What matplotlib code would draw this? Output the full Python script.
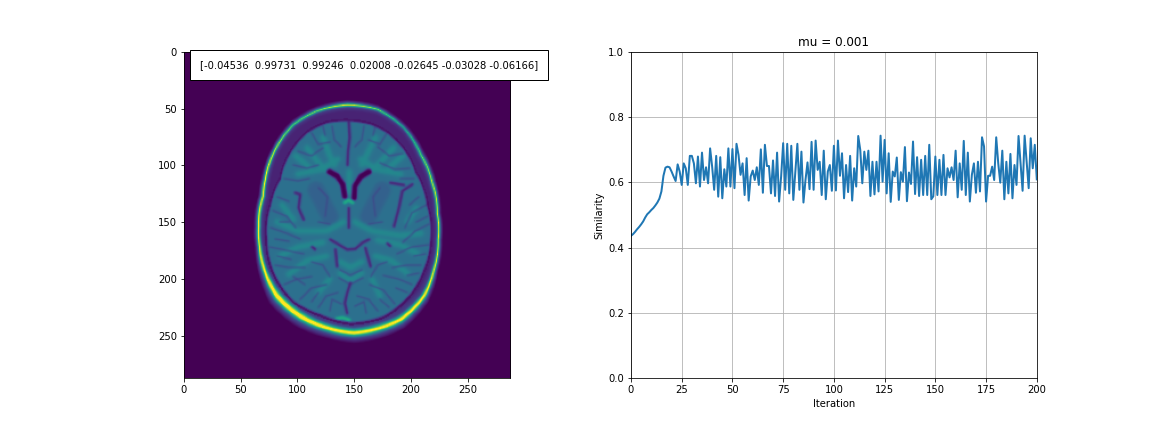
#!/usr/bin/env python3
"""Brain slice with registration result, and similarity per iteration."""

import numpy as np
import matplotlib

matplotlib.use("Agg")
import matplotlib.pyplot as plt

similarity = [
    .436, .441, .448, .456, .463, .471, .480, .492, .502, .508,
    .515, .521, .529, .538, .550, .572, .620, .645, .648, .646,
    .633, .618, .604, .655, .633, .592, .658, .643, .592, .681,
    .681, .658, .597, .679, .587, .691, .607, .646, .597, .704,
    .648, .577, .681, .556, .677, .551, .640, .587, .704, .587,
    .702, .582, .718, .684, .623, .658, .561, .674, .544, .618,
    .636, .607, .646, .592, .701, .568, .715, .650, .650, .566,
    .667, .558, .691, .541, .618, .720, .577, .718, .566, .712,
    .546, .633, .718, .577, .694, .538, .607, .661, .579, .724,
    .577, .728, .638, .663, .561, .697, .548, .633, .653, .574,
    .712, .575, .728, .620, .689, .551, .653, .570, .681, .544,
    .643, .587, .742, .699, .597, .694, .638, .697, .558, .663,
    .563, .663, .572, .743, .602, .730, .566, .689, .540, .633,
    .618, .676, .546, .631, .602, .708, .542, .630, .595, .725,
    .564, .677, .558, .669, .561, .681, .561, .715, .548, .557,
    .679, .561, .669, .561, .684, .561, .643, .615, .646, .607,
    .697, .554, .658, .577, .727, .561, .691, .541, .623, .658,
    .568, .663, .572, .738, .710, .541, .620, .620, .648, .607,
    .738, .658, .599, .697, .548, .663, .566, .687, .551, .653,
    .592, .742, .658, .574, .743, .663, .582, .735, .643, .715,
    .609,
]
iterations = list(range(len(similarity)))
xticks_right = [0, 25, 50, 75, 100, 125, 150, 175, 200]
yticks_right = [0.0, 0.2, 0.4, 0.6, 0.8, 1.0]
ticks_left = [0, 50, 100, 150, 200, 250]
params_text = "[-0.04536  0.99731  0.99246  0.02008 -0.02645 -0.03028 -0.06166]"

# skull ridge: x, y, brightness, thickness
head_x = [143.2, 169.6, 193, 207.8, 218, 222.4, 223.3, 219.5, 210.7, 190.2, 169.6, 149.1,
          125.6, 102.1, 81.6, 71.3, 66.3, 65.5, 69.3, 71.3, 78.7, 96.3, 116.8]
head_y = [47.2, 51, 67.2, 90.6, 115.6, 142, 165.5, 191.9, 215.3, 235.9, 244, 247.6,
          243.2, 233, 215.3, 194.8, 171.3, 153.7, 127.3, 112.6, 89.2, 64.2, 52.5]
head_v = [1.05, .85, .6, .8, 1.0, 1.05, 1.05, 1.1, 1.15, 1.15, 1.1, 1.1,
          1.15, 1.25, 1.25, 1.15, 1.1, 1.1, 1.1, 1.15, 1.05, .8, .85]
head_w = [.7, .65, .7, .85, .8, .75, .75, .8, 1.1, 1.4, 1.5, 1.5,
          1.5, 1.7, 1.7, 1.2, .9, .9, .9, .8, .7, .7, .7]
brain_x = [125.6, 146.2, 163.8, 178.4, 193.1, 203.4, 213.6, 216.6, 210.7, 197.5,
           175.5, 146.2, 119.7, 96.3, 78.7, 72.8, 75.7, 84.5, 93.3, 108]
brain_y = [62.8, 61.3, 64.2, 71.6, 86.2, 106.8, 136.1, 165.5, 191.9, 215.3,
           232.9, 238.8, 231.5, 219.7, 194.8, 165.5, 136.1, 112.6, 89.2, 71.6]
ridge_pos = [.92, .965, .985, 1.0, 1.012, 1.03, 1.06]
ridge_val = [0, .08, .5, 1, .55, .18, 0]

ventricles = [
    [(127.6, 106), (134.4, 109.8), (139.4, 117.1), (141.1, 127.4)],
    [(162.3, 106), (154.9, 110.7), (149.9, 118.6), (149.4, 128.9)],
    [(128, 106), (134, 109.5)],
    [(162, 106), (156, 109.5)],
]
fissures = [
    [(144.7, 62), (145.5, 76), (144, 88), (143.5, 100)],
    [(144.7, 138), (144.7, 155)],
    [(97.7, 124.5), (102.1, 125.9), (100.6, 137.7), (105, 147.9)],
    [(200.4, 117.1), (191.6, 123), (188.7, 137.7), (184.3, 153.8)],
    [(181.3, 115.7), (193, 117.7)],
    [(128.5, 165.5), (135.9, 169.9), (143.2, 174.3), (150.5, 173.7), (156.4, 168.4), (162.3, 165.5)],
    [(132.9, 174.3), (134.4, 189)],
    [(159.3, 172.9), (163.7, 189)],
    [(146.1, 203.7), (143.2, 212.5), (141.1, 221.3), (143.2, 230.1)],
    [(112.5, 172), (115, 174)],
    [(178.5, 169), (181, 171)],
]
sulci = [
    [(100, 88), (112, 92), (122, 85)], [(112, 72), (118, 82), (128, 80)],
    [(96, 100), (108, 103), (118, 100)], [(130, 66), (132, 78), (138, 84)],
    [(192, 90), (180, 92), (170, 84)], [(178, 72), (172, 82), (162, 78)],
    [(198, 103), (185, 104), (172, 98)], [(158, 66), (156, 78), (150, 84)],
    [(78, 140), (90, 145), (98, 155)], [(76, 155), (90, 160), (102, 165)],
    [(75, 172), (90, 175), (105, 178)], [(80, 188), (92, 190), (106, 190)],
    [(88, 205), (100, 200), (112, 198)], [(102, 218), (112, 208), (125, 205)],
    [(213, 135), (200, 142), (194, 155)], [(215, 152), (203, 158), (192, 168)],
    [(215, 170), (200, 172), (187, 178)], [(208, 188), (196, 188), (183, 190)],
    [(200, 205), (188, 200), (175, 197)], [(185, 222), (175, 210), (163, 205)],
    [(118, 225), (125, 215), (135, 212)], [(170, 228), (162, 218), (152, 215)],
    [(137, 192), (146, 197), (156, 192)], [(136, 199), (146, 205), (157, 199)],
    [(88, 112), (100, 114), (110, 112)], [(106, 72), (112, 62)], [(122, 66), (124, 74)],
    [(168, 66), (166, 74)], [(186, 78), (180, 68)], [(202, 112), (190, 112)],
    [(82, 128), (92, 132)], [(84, 150), (92, 150)], [(80, 165), (92, 167)],
    [(82, 180), (94, 183)], [(96, 198), (106, 205)], [(112, 220), (118, 212)],
    [(128, 228), (130, 218), (138, 222)], [(160, 230), (158, 220), (150, 224)],
    [(180, 225), (172, 218)], [(196, 212), (186, 208)], [(206, 195), (196, 197)],
    [(212, 178), (202, 180)], [(214, 145), (204, 150)], [(206, 128), (198, 135)],
    [(118, 120), (126, 128), (124, 145)], [(172, 120), (166, 128), (168, 145)],
    [(118, 150), (128, 152)], [(162, 152), (174, 150)], [(112, 185), (122, 188), (128, 198)],
    [(178, 185), (170, 188), (164, 198)],
]
white_matter = [
    [(100, 108), (120, 104), (135, 95)], [(108, 85), (118, 98), (124, 104)],
    [(122, 76), (128, 92), (132, 100)], [(190, 108), (170, 104), (155, 95)],
    [(184, 85), (172, 98), (166, 104)], [(168, 76), (160, 92), (156, 100)],
    [(145, 106), (145, 124)], [(82, 150), (100, 158), (125, 158), (140, 150)],
    [(84, 180), (100, 172), (122, 168)], [(92, 196), (108, 184), (125, 180)],
    [(208, 160), (190, 162), (165, 158), (150, 150)], [(205, 178), (190, 170), (170, 166)],
    [(196, 195), (182, 184), (168, 180)], [(118, 212), (128, 200)], [(172, 215), (165, 200)],
    [(137, 195), (146, 201), (156, 195)], [(137, 185), (146, 190), (156, 185)],
    [(86, 135), (96, 148)], [(204, 138), (196, 150)], [(98, 92), (110, 102)], [(192, 92), (180, 102)],
]
deep_patches = [
    [(116, 122), (128, 145)],
    [(174, 122), (162, 145)],
]
bright_spots = [
    [(141, 133), (144.7, 131), (148, 133)],
    [(134, 235), (139, 234), (145, 236)],
]


def stroke(img, xx, yy, line, value, width):
    # soft-edged polyline painted into the slice
    d = np.full(img.shape, 1e9)
    for (x0, y0), (x1, y1) in zip(line[:-1], line[1:]):
        dx, dy = x1 - x0, y1 - y0
        t = np.clip(((xx - x0) * dx + (yy - y0) * dy) / (dx * dx + dy * dy), 0, 1)
        d = np.minimum(d, np.hypot(xx - x0 - t * dx, yy - y0 - t * dy))
    a = np.clip(width - d, 0, 1)
    return img * (1 - a) + value * a


def blur(img, sigma):
    r = int(3 * sigma) + 1
    k = np.exp(-0.5 * (np.arange(-r, r + 1) / sigma) ** 2)
    k = k / k.sum()
    img = np.apply_along_axis(lambda v: np.convolve(v, k, mode="same"), 0, img)
    return np.apply_along_axis(lambda v: np.convolve(v, k, mode="same"), 1, img)


def polar_outline(xs, ys, cx, cy):
    th = np.arctan2(np.array(ys) - cy, np.array(xs) - cx)
    rad = np.hypot(np.array(xs) - cx, np.array(ys) - cy)
    return th, rad


def build_slice(size=287):
    yy, xx = np.mgrid[0:size, 0:size] + 0.5
    cx, cy = 145.0, 147.0
    theta = np.arctan2(yy - cy, xx - cx)
    dist = np.hypot(xx - cx, yy - cy)

    th_h, rad_h = polar_outline(head_x, head_y, cx, cy)
    th_b, rad_b = polar_outline(brain_x, brain_y, cx, cy)
    r = dist / np.interp(theta, th_h, rad_h, period=2 * np.pi)
    s = dist / np.interp(theta, th_b, rad_b, period=2 * np.pi)
    v = np.interp(theta, th_h, head_v, period=2 * np.pi)
    w = np.interp(theta, th_h, head_w, period=2 * np.pi)

    tissue = np.full((size, size), 0.37)
    for line in deep_patches:
        tissue = stroke(tissue, xx, yy, line, 0.31, 8)
    for line in white_matter:
        tissue = stroke(tissue, xx, yy, line, 0.47, 3.0)
    tissue = blur(tissue, 1.2)
    for line in sulci:
        tissue = stroke(tissue, xx, yy, line, 0.2, 1.1)
    for line in fissures:
        tissue = stroke(tissue, xx, yy, line, 0.1, 1.8)
    for line in ventricles:
        tissue = stroke(tissue, xx, yy, line, 0.0, 3.0)
    for line in bright_spots:
        tissue = stroke(tissue, xx, yy, line, 0.62, 2.0)
    tissue = blur(tissue, 0.6)

    ridge = v * np.interp(1 + (r - 1) / w, ridge_pos, ridge_val)
    scalp = np.where(r < 1.0, 0.1, 0.0) + ridge
    inner = np.clip((1.0 - s) / 0.02, 0, 1)
    img = scalp * (1 - inner) + tissue * inner
    rim = (s >= 1.0) & (s < 1.02) & (r < 0.98)
    img[rim] = 0.05
    return np.clip(blur(img, 0.5), 0, 1)


fig = plt.figure(figsize=(16, 6), dpi=72)
ax1, ax2 = fig.subplots(1, 2)
fig.subplots_adjust(left=0.125, right=0.9, bottom=0.125, top=0.88, wspace=0.2)

ax1.imshow(build_slice(), cmap="viridis", vmin=0, vmax=1, extent=(0, 287, 287, 0))
ax1.set_xticks(ticks_left)
ax1.set_yticks(ticks_left)
ax1.text(14, 11.4, params_text, fontsize=10, va="center",
         bbox=dict(facecolor="white", edgecolor="black", pad=10))

ax2.plot(iterations, similarity, lw=2, color="#1f77b4")
ax2.set_xlim(0, 200)
ax2.set_ylim(0, 1)
ax2.set_xticks(xticks_right)
ax2.set_yticks(yticks_right)
ax2.grid(True)
ax2.set_title("mu = 0.001", fontsize=12)
ax2.set_xlabel("Iteration")
ax2.set_ylabel("Similarity")

plt.savefig("out.png", dpi=72)
plt.close()
